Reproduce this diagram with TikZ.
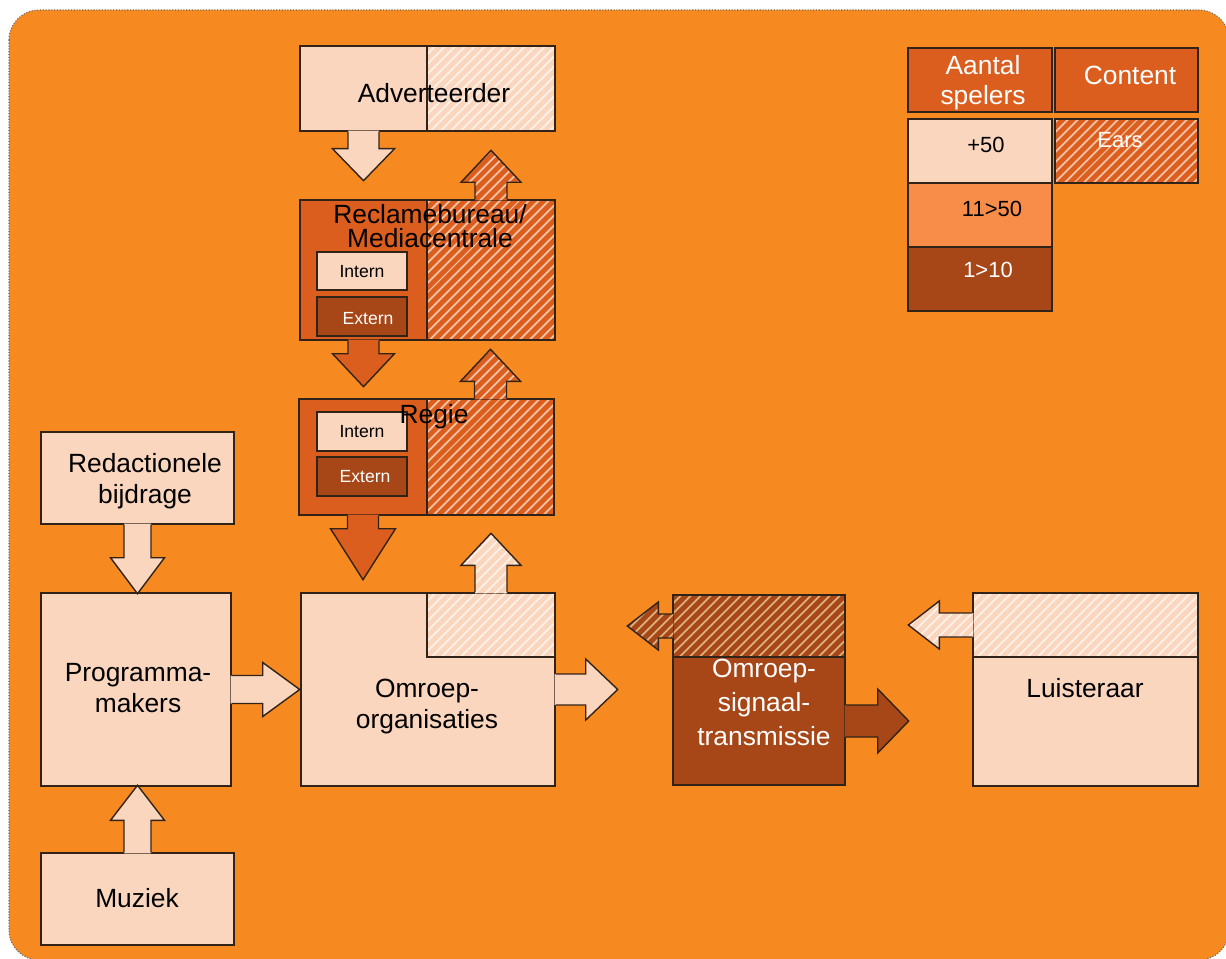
\documentclass[tikz,border=0pt]{standalone}
\usepackage{fontspec}
\setmainfont{Liberation Sans}
\usetikzlibrary{patterns.meta,fit,positioning,calc}

\definecolor{bgorange}{RGB}{246,138,33}
\definecolor{peach}{RGB}{251,214,190}
\definecolor{darkor}{RGB}{220,94,30}
\definecolor{midor}{RGB}{247,141,73}
\definecolor{rust}{RGB}{167,70,23}
\definecolor{edge}{RGB}{50,35,25}
\colorlet{hpeach}{white!65!peach}
\colorlet{hdark}{peach!85!darkor}
\definecolor{hrust}{RGB}{222,176,126}

\tikzset{
  box/.style={draw=edge, line width=0.8pt, inner sep=0pt},
  outline/.style={draw=edge, line width=0.8pt},
  hatch/.style 2 args={preaction={fill=#1}, pattern={Lines[angle=45,distance=4pt,line width=1.1pt]}, pattern color=#2},
  lbl/.style={font=\fontsize{15}{17.5}\selectfont, align=center, anchor=base, inner sep=0pt},
  smalltxt/.style={font=\fontsize{10}{12}\selectfont, anchor=base, inner sep=0pt},
  legendtxt/.style={font=\fontsize{12.5}{15}\selectfont, anchor=base, inner sep=0pt}
}

\newcommand{\blockarrow}[7]{%
  \begin{scope}[shift={#2}, rotate=#3]
    \fill[#1] (-1,-#5) -- ({#4-#7},-#5) -- ({#4-#7},-#6) -- (#4,0) -- ({#4-#7},#6) -- ({#4-#7},#5) -- (-1,#5) -- cycle;
    \draw[outline] (0,-#5) -- ({#4-#7},-#5) -- ({#4-#7},-#6) -- (#4,0) -- ({#4-#7},#6) -- ({#4-#7},#5) -- (0,#5);
  \end{scope}}

\begin{document}
\begin{tikzpicture}[x=0.02cm, y=-0.02cm]
  \useasboundingbox (0,0) rectangle (1226,959);
  \clip (0,0) rectangle (1226,959);
  \draw[fill=bgorange, draw=black!60, densely dotted, line width=0.6pt, rounded corners=0.6cm] (9,10) rectangle (1229,960);

  \node[box, fill=peach, fit={(300,46) (427,131)}] (advL) {};
  \node[box, hatch={peach}{hpeach}, fit={(427,46) (555,131)}] (advR) {};

  \node[box, fill=darkor, fit={(300,200) (427,340)}] (recL) {};
  \node[box, hatch={darkor}{hdark}, fit={(427,200) (555,340)}] (recR) {};
  \node[box, fill=peach, fit={(317,252) (407,290)}] (recI) {};
  \node[box, fill=rust, fit={(317,297) (407,336)}] (recE) {};

  \node[box, fill=darkor, fit={(299,399) (427,515)}] (regL) {};
  \node[box, hatch={darkor}{hdark}, fit={(427,399) (554,515)}] (regR) {};
  \node[box, fill=peach, fit={(317,412) (407,451)}] (regI) {};
  \node[box, fill=rust, fit={(317,457) (407,496)}] (regE) {};

  \node[box, fill=peach, fit={(41,432) (234,524)}] (red) {};
  \node[box, fill=peach, fit={(41,593) (231,786)}] (prog) {};
  \node[box, fill=peach, fit={(41,853) (234,945)}] (muz) {};

  \node[box, fill=peach, fit={(301,593) (555,786)}] (omr) {};
  \node[box, hatch={peach}{hpeach}, fit={(427,593) (555,657)}] (omrH) {};

  \node[box, fill=rust, fit={(673,657) (845,785)}] (sigL) {};
  \node[box, hatch={rust}{hrust}, fit={(673,595) (845,657)}] (sigH) {};

  \node[box, fill=peach, fit={(973,657) (1198,786)}] (luiL) {};
  \node[box, hatch={peach}{hpeach}, fit={(973,593) (1198,657)}] (luiH) {};

  \node[box, fill=darkor, fit={(908,48) (1052,112)}] (legA) {};
  \node[box, fill=darkor, fit={(1055,48) (1198,112)}] (legC) {};
  \node[box, fill=peach, fit={(908,119) (1052,183)}] (leg1) {};
  \node[box, hatch={darkor}{hdark}, fit={(1055,119) (1198,183)}] (legE) {};
  \node[box, fill=midor, fit={(908,183) (1052,247)}] (leg2) {};
  \node[box, fill=rust, fit={(908,247) (1052,311)}] (leg3) {};

  \blockarrow{fill=peach}{(advL.south)}{-90}{49}{15.5}{31}{32}
  \blockarrow{hatch={darkor}{hdark}}{(recR.north)}{90}{49}{16}{30}{32}
  \blockarrow{fill=darkor}{(recL.south)}{-90}{46}{15.5}{31}{33}
  \blockarrow{hatch={darkor}{hdark}}{(regR.north)}{90}{49}{16}{30}{32}
  \blockarrow{fill=darkor}{(regL.south)}{-90}{64}{15.5}{32.5}{51}
  \blockarrow{hatch={peach}{hpeach}}{(omrH.north)}{90}{59}{16}{30}{32}
  \blockarrow{fill=peach}{(red.south)}{-90}{69}{13.5}{27}{36}
  \blockarrow{fill=peach}{(muz.north)}{90}{67}{13.5}{27}{35}
  \blockarrow{fill=peach}{(prog.east)}{0}{68}{14}{27}{37}
  \blockarrow{fill=peach}{(omr.east)}{0}{62}{15.5}{30.5}{32}
  \blockarrow{hatch={rust}{hrust}}{(sigH.west)}{180}{45}{12}{24}{31}
  \blockarrow{fill=rust}{(sigL.east)}{0}{63}{16}{32}{31}
  \blockarrow{hatch={peach}{hpeach}}{(luiH.west)}{180}{64}{12}{24}{31}

  \node[lbl] (advT) at (434,103) {Adverteerder};
  \node[lbl, font=\fontsize{15}{14}\selectfont] (recT) at (430,248) {Reclamebureau/\\Mediacentrale};
  \node[smalltxt] (recIT) at (362,277) {Intern};
  \node[smalltxt, white] (recET) at (368,324) {Extern};
  \node[lbl] (regT) at (434,423) {Regie};
  \node[smalltxt] (regIT) at (362,437) {Intern};
  \node[smalltxt, white] (regET) at (365,482) {Extern};
  \node[lbl] (redT) at (145,503) {Redactionele\\bijdrage};
  \node[lbl] (progT) at (138,712) {Programma-\\makers};
  \node[lbl] (muzT) at (137,907) {Muziek};
  \node[lbl] (omrT) at (427,728) {Omroep-\\organisaties};
  \node[lbl, white, font=\fontsize{15}{19.3}\selectfont] (sigT) at (764,745) {Omroep-\\signaal-\\transmissie};
  \node[lbl] (luiT) at (1085,697) {Luisteraar};
  \node[lbl, white] (legAT) at (983,105) {Aantal\\spelers};
  \node[lbl, white] (legCT) at (1130,85) {Content};
  \node[legendtxt] (leg1T) at (986,153) {+50};
  \node[legendtxt, white] (legET) at (1120,148) {Ears};
  \node[legendtxt] (leg2T) at (992,217) {11>50};
  \node[legendtxt, white] (leg3T) at (988,277) {1>10};
\end{tikzpicture}
\end{document}
